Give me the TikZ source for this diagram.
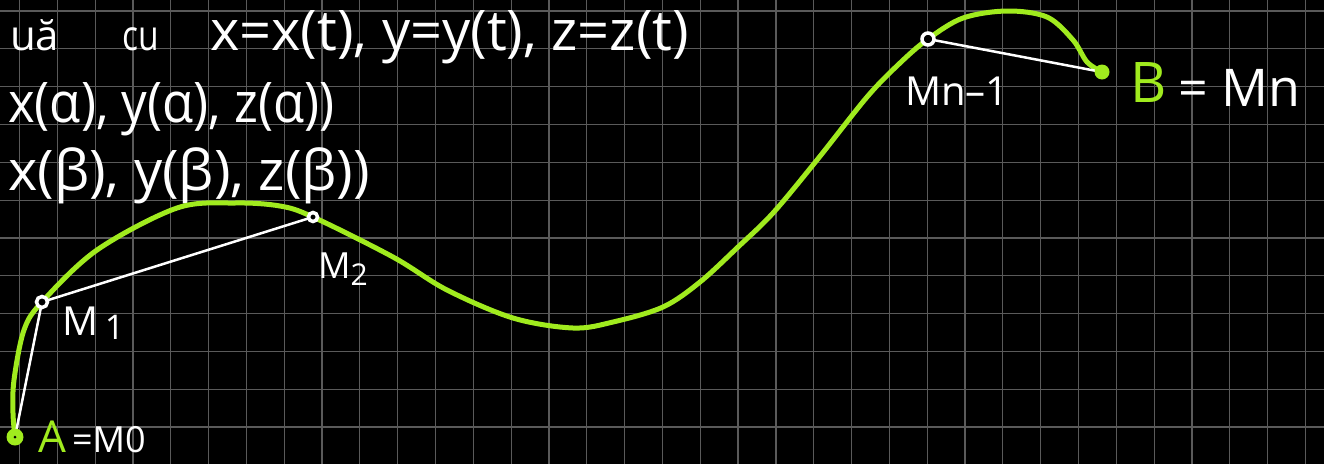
\documentclass[tikz,border=0pt]{standalone}
\usepackage{fontspec}
\setmainfont{Open Sans}
\definecolor{curvegreen}{HTML}{A0EB1E}
\definecolor{gridgray}{HTML}{5A5A5A}
\newcommand\hsz[1]{\fontsize{#1}{#1}\selectfont}
\begin{document}
\begin{tikzpicture}[x=1pt,y=-1pt,
  gridline/.style={gridgray,line width=1.2pt},
  curve/.style={curvegreen,line width=5pt,line cap=round,line join=round},
  chord/.style={white,line width=2.5pt,line cap=round},
  hand/.style={text=white,inner sep=0pt,anchor=base west},
  greendot/.style={circle,fill=curvegreen,inner sep=0pt,minimum size=#1},
  whitering/.style={circle,draw=white,fill=black,line width=3.5pt,inner sep=0pt,minimum size=#1}
]
\fill[black] (0,0) rectangle (1324,464);
\useasboundingbox (0,0) rectangle (1324,464);
% grid
\foreach \i in {0,...,34} \draw[gridline] ({19.5+37.82*\i},0) -- ({19.5+37.82*\i},464);
\foreach \j in {0,...,11} \draw[gridline] (0,{11+37.82*\j}) -- (1324,{11+37.82*\j});
% handwritten text
\node[hand] (l1a) at (10,50) {\hsz{42}uă};
\node[hand] (l1b) at (122,50) {\scalebox{0.8}[1]{\hsz{42}cu}};
\node[hand] (l1c) at (210,50) {\hsz{56}x=x(t), y=y(t), z=z(t)};
\node[hand] (l2) at (8,122) {\scalebox{0.91}[1]{\hsz{56}x(α), y(α), z(α))}};
\node[hand] (l3) at (8,190) {\hsz{56}x(β), y(β), z(β))};
% points
\coordinate (A) at (15,437);
\coordinate (M1) at (42,302);
\coordinate (M2) at (313,217);
\coordinate (Mn1) at (928,39);
\coordinate (B) at (1102,72);
% curve
\draw[curve] plot[smooth,tension=0.55] coordinates {(A) (13,413) (14,380) (24,330) (M1) (97,250) (177,208) (235,203) (280,206) (M2) (393,257) (447,290) (513,318) (573,328) (613,322) (663,307) (700,282) (738,247) (773,213) (817,160) (867,97) (900,63) (Mn1) (963,18) (1007,11) (1047,17) (1073,40) (1087,62) (B)};
% chords
\draw[chord] (A) -- (M1);
\draw[chord] (M1) -- (M2);
\draw[chord] (Mn1) -- (B);
% markers
\node[greendot=17pt] (mA) at (A) {};
\fill[black] (A) circle (1.5pt);
\node[whitering=11pt] (mM1) at (M1) {};
\node[whitering=9pt] (mM2) at (M2) {};
\node[whitering=12pt] (mMn1) at (Mn1) {};
\node[greendot=15pt] (mB) at (B) {};
% labels
\node[hand] (lM1) at (62,335) {\hsz{40}M\,\raisebox{-4pt}{\hsz{34}1}};
\node[hand] (lM2) at (318,278) {\hsz{36}M\raisebox{-7pt}{\hsz{30}2}};
\node[hand] (lA) at (38,452) {{\color{curvegreen}\hsz{44}A}\hsz{36}\,=M0};
\node[hand] (lMn1) at (905,105) {\hsz{40}Mn–1};
\node[hand,text=curvegreen] (lB) at (1130,102) {\hsz{56}B};
\node[hand] (lMn) at (1178,106) {\hsz{52}= Mn};
\end{tikzpicture}
\end{document}
